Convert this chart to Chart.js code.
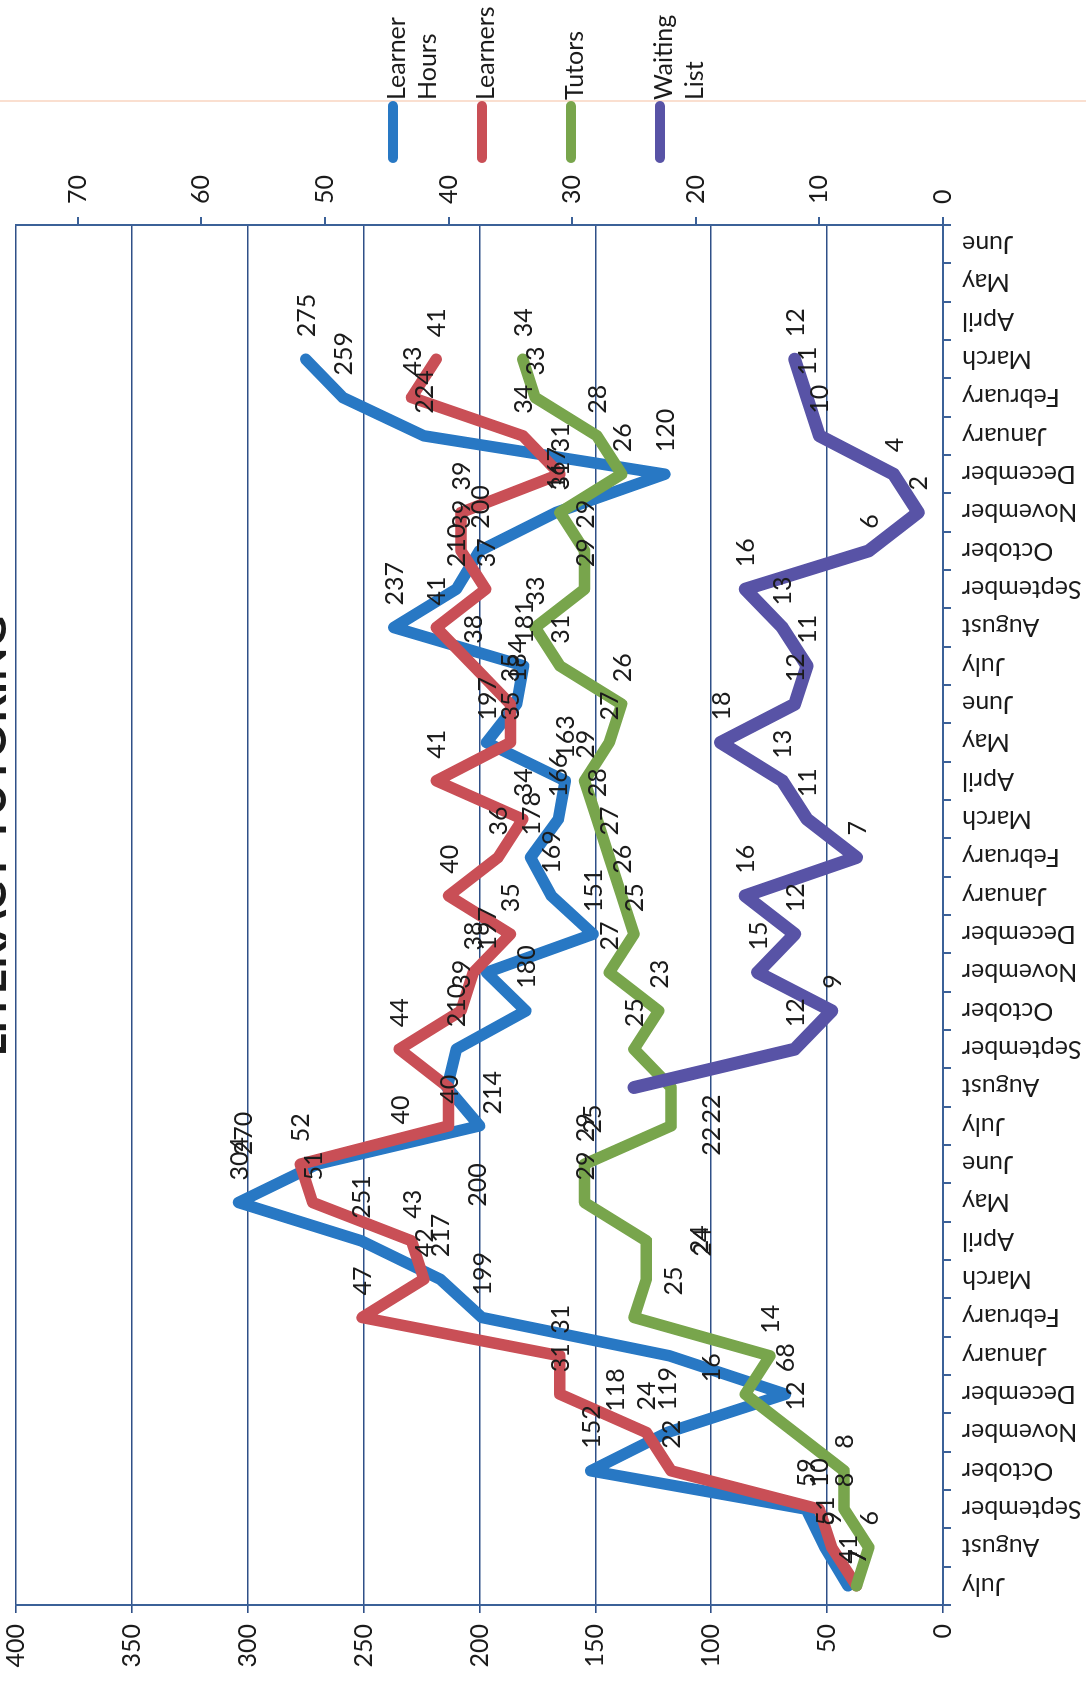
<!DOCTYPE html>
<html>
<head>
<meta charset="utf-8">
<script src="https://cdn.jsdelivr.net/npm/chart.js@4.4.1/dist/chart.umd.min.js"></script>
<style>
  html, body { margin: 0; padding: 0; background: #fff; overflow: hidden; width: 1086px; height: 1681px; }
  /* the chart is laid out landscape and turned a quarter turn counter-clockwise onto the page */
  #frame { position: absolute; left: 0; top: 0; width: 1681px; height: 1086px;
           transform-origin: 0 0; transform: translate(0, 1681px) rotate(-90deg); }
  canvas { display: block; }
</style>
</head>
<body>
<div id="frame"><canvas id="chart" width="1681" height="1086"></canvas></div>
<script>
// Three program years, July to June
const months = [
  'July','August','September','October','November','December','January','February','March','April','May','June',
  'July','August','September','October','November','December','January','February','March','April','May','June',
  'July','August','September','October','November','December','January','February','March','April','May','June'
];

// Learner hours per month (left axis)
const learnerHours = [
  41, 51, 59, 152, 119, 68, 118, 199, 217, 251, 304, 270,
  200, 214, 210, 180, 197, 151, 169, 178, 166, 163, 197, 184,
  181, 237, 210, 200, 167, 120, 224, 259, 275, null, null, null
];

// Head counts (right axis)
const learners = [
  7, 9, 10, 22, 24, 31, 31, 47, 42, 43, 51, 52,
  40, 40, 44, 39, 38, 35, 40, 36, 34, 41, 35, 35,
  38, 41, 37, 39, 39, 31, 34, 43, 41, null, null, null
];
const tutors = [
  7, 6, 8, 8, 12, 16, 14, 25, 24, 24, 29, 29,
  22, 22, 25, 23, 27, 25, 26, 27, 28, 29, 27, 26,
  31, 33, 29, 29, 31, 26, 28, 33, 34, null, null, null
];
const waitingList = [
  null, null, null, null, null, null, null, null, null, null, null, null,
  null, 25, 12, 9, 15, 12, 16, 7, 11, 13, 18, 12,
  11, 13, 16, 6, 2, 4, 10, 11, 12, null, null, null
];

const hoursRange = { min: 0, max: 400, step: 50 };
const countRange = { min: 0, max: 75, step: 10 };

const BLUE = '#2878c4', RED = '#c94f56', GREEN = '#78a54c', PURPLE = '#5853a6';
const GRID = '#2f5088', AXIS = '#3b6198', INK = '#1b1b1b';
const FONT = 'Lato, "Open Sans", sans-serif';

// value labels that were dragged away from their default spot (dataset:index -> shift in px)
const labelShift = {
  '0:6': [-78, -55],
  '2:5': [-10, -34],
  '0:11': [-13, -74],
  '0:12': [-103, -3],
  '0:13': [-49, 45],
  '1:13': [-59, -49],
  '2:7': [0, 39],
  '2:8': [3, 53],
  '2:9': [-38, 56],
  '2:12': [-52, 40],
  '2:13': [-58, 40],
  '3:13': [-68, -42]
};

// value labels to the right of every point
const valueLabels = {
  id: 'valueLabels',
  afterDatasetsDraw(chart) {
    const ctx = chart.ctx;
    ctx.save();
    ctx.font = '25px ' + FONT;
    ctx.fillStyle = INK;
    ctx.textAlign = 'left';
    ctx.textBaseline = 'middle';
    chart.data.datasets.forEach((ds, i) => {
      chart.getDatasetMeta(i).data.forEach((pt, j) => {
        const v = ds.data[j];
        if (v === null || v === undefined) return;
        const s = labelShift[i + ':' + j] || [0, 0];
        ctx.fillText(String(v), pt.x + 22 + s[0], pt.y + 1 + s[1]);
      });
    });
    ctx.restore();
  }
};

// legend column on the right, title across the top
const sideLegend = {
  id: 'sideLegend',
  afterDraw(chart) {
    const ctx = chart.ctx;
    ctx.save();
    // faint rule beside the legend keys
    ctx.strokeStyle = 'rgba(245,185,150,0.45)';
    ctx.lineWidth = 2;
    ctx.beginPath();
    ctx.moveTo(1580, 0);
    ctx.lineTo(1580, 1086);
    ctx.stroke();

    const names = [['Learner', 'Hours'], ['Learners'], ['Tutors'], ['Waiting', 'List']];
    ctx.font = '25px ' + FONT;
    ctx.fillStyle = INK;
    ctx.textAlign = 'left';
    ctx.textBaseline = 'alphabetic';
    chart.data.datasets.forEach((ds, k) => {
      const y = 393 + 89 * k;
      ctx.strokeStyle = ds.borderColor;
      ctx.lineWidth = 10;
      ctx.lineCap = 'round';
      ctx.beginPath();
      ctx.moveTo(1523, y);
      ctx.lineTo(1575, y);
      ctx.stroke();
      names[k].forEach((t, n) => ctx.fillText(t, 1581, y + 12 + 31 * n));
    });

    ctx.font = 'bold 44px ' + FONT;
    ctx.textAlign = 'center';
    ctx.fillText('LITERACY TUTORING', 845, 6);
    ctx.restore();
  }
};

const lineStyle = (color, width, order) => ({
  borderColor: color, backgroundColor: color, borderWidth: width,
  pointRadius: 0, tension: 0, borderJoinStyle: 'round', borderCapStyle: 'round',
  spanGaps: false, order: order
});

// value axes span the full plot height, without room reserved for end labels
const flushEnds = (width) => function (s) { s.width = width; s.paddingTop = 0; s.paddingBottom = 0; };

new Chart(document.getElementById('chart'), {
  type: 'line',
  data: {
    labels: months,
    datasets: [
      { label: 'Learner Hours', data: learnerHours, yAxisID: 'y', ...lineStyle(BLUE, 11.5, 4) },
      { label: 'Learners', data: learners, yAxisID: 'y1', ...lineStyle(RED, 11.5, 3) },
      { label: 'Tutors', data: tutors, yAxisID: 'y1', ...lineStyle(GREEN, 11.5, 2) },
      { label: 'Waiting List', data: waitingList, yAxisID: 'y1', ...lineStyle(PURPLE, 13, 1) }
    ]
  },
  options: {
    responsive: false,
    animation: false,
    devicePixelRatio: 1,
    layout: { padding: { top: 16, left: 0, right: 0, bottom: 0 } },
    plugins: { legend: { display: false }, tooltip: { enabled: false }, title: { display: false } },
    scales: {
      x: {
        offset: true,
        grid: { offset: true, drawOnChartArea: false, drawTicks: true, tickLength: 8, color: AXIS, lineWidth: 2 },
        border: { color: AXIS, width: 2 },
        ticks: { minRotation: 90, maxRotation: 90, autoSkip: false, padding: 11, color: INK, font: { family: FONT, size: 25 } },
        afterFit(s) { s.height = 143; s.paddingLeft = 0; s.paddingRight = 0; }
      },
      y: {
        position: 'left',
        min: hoursRange.min, max: hoursRange.max,
        ticks: { stepSize: hoursRange.step, padding: 11, color: INK, font: { family: FONT, size: 25 } },
        grid: { color: GRID, lineWidth: 1.6, tickLength: 8 },
        border: { color: AXIS, width: 2 },
        afterFit: flushEnds(76)
      },
      y1: {
        position: 'right',
        min: countRange.min, max: countRange.max,
        ticks: { stepSize: countRange.step, includeBounds: false, padding: 13, color: INK, font: { family: FONT, size: 25 } },
        grid: { drawOnChartArea: false, tickLength: 8, color: AXIS, lineWidth: 2 },
        border: { color: AXIS, width: 2 },
        afterFit: flushEnds(225)
      }
    }
  },
  plugins: [valueLabels, sideLegend]
});
</script>
</body>
</html>
